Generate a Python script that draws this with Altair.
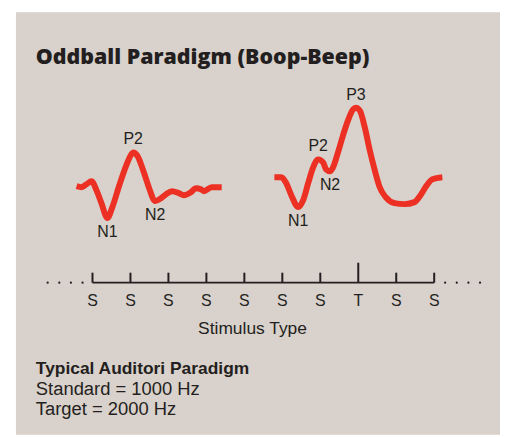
import altair as alt
import pandas as pd
import numpy as np

# ---- data (time units / amplitude units) ----
title_text = "Oddball Paradigm (Boop-Beep)"

standard_t = [61, 66, 71, 76, 81, 86, 92, 97, 104, 111, 116, 118, 122, 129, 134, 140,
              146, 151, 157, 164, 169, 176, 181, 186, 189, 197, 207]
standard_amp = [250, 249, 252, 255, 246, 233, 218, 229, 251, 271, 282, 284, 281, 263, 248, 235,
                238, 242, 245, 243, 241, 244, 248, 247, 245, 249, 249]
standard_peaks = {"N1": 92, "P2": 118, "N2": 140}

target_t = [260, 267, 272, 277, 284, 289, 294, 299, 304, 309, 312, 316, 319, 324, 329, 334,
            339, 342, 346, 351, 356, 361, 366, 372, 381, 391, 401, 407, 412, 419, 429]
target_amp = [259, 259, 253, 241, 229, 236, 253, 269, 277, 274, 267, 265, 269, 284, 301, 316,
              327, 329, 326, 309, 286, 266, 249, 239, 233, 232, 234, 241, 249, 257, 259]
target_peaks = {"N1": 284, "P2": 304, "N2": 316, "P3": 342}

stimuli = ["S", "S", "S", "S", "S", "S", "S", "T", "S", "S"]
axis_title = "Stimulus Type"
note_lines = ["Typical Auditori Paradigm", "Standard = 1000 Hz", "Target = 2000 Hz"]

# ---- styles / layout ----
RED = "#ec3024"
INK = "#231f20"
PANEL = "#d9d1cb"
FONT = "Liberation Sans"
W, H = 487, 425
AX0, STEP, AXY = 77, 38.2, 153

xs = alt.Scale(domain=[0, W], nice=False, zero=False)
ys = alt.Scale(domain=[0, H], nice=False, zero=False)

wave = pd.concat([
    pd.DataFrame({"t": standard_t, "amp": standard_amp, "series": "standard"}),
    pd.DataFrame({"t": target_t, "amp": target_amp, "series": "target"}),
])

rows = []
for name, t in standard_peaks.items():
    rows.append({"label": name, "t": t, "amp": standard_amp[standard_t.index(t)]})
for name, t in target_peaks.items():
    rows.append({"label": name, "t": t, "amp": target_amp[target_t.index(t)]})
peaks = pd.DataFrame(rows)
peaks["ly"] = peaks["amp"] + np.where(peaks["label"].str.startswith("P"), 13, -14)

lines = alt.Chart(wave).mark_line(
    color=RED, strokeWidth=6, interpolate="monotone", strokeJoin="round", strokeCap="butt"
).encode(
    x=alt.X("t:Q", scale=xs, axis=None),
    y=alt.Y("amp:Q", scale=ys, axis=None),
    detail="series:N",
)

peak_text = alt.Chart(peaks).mark_text(
    font=FONT, fontSize=16, color=INK, baseline="middle", align="center"
).encode(x=alt.X("t:Q", scale=xs), y=alt.Y("ly:Q", scale=ys), text="label:N")

stim = pd.DataFrame({"i": range(len(stimuli)), "type": stimuli})
stim["x"] = AX0 + STEP * stim["i"]
stim["y0"] = AXY
stim["ytop"] = AXY + np.where(stim["type"] == "T", 20, 10)
stim["ylab"] = AXY - 24

ticks = alt.Chart(stim).mark_rule(color=INK, strokeWidth=2).encode(
    x=alt.X("x:Q", scale=xs), y=alt.Y("y0:Q", scale=ys), y2="ytop:Q"
)
tick_labels = alt.Chart(stim).mark_text(
    font=FONT, fontSize=16, color=INK, baseline="alphabetic", align="center"
).encode(x=alt.X("x:Q", scale=xs), y=alt.Y("ylab:Q", scale=ys), text="type:N")

axend = AX0 + STEP * (len(stimuli) - 1)
base_df = pd.DataFrame({"x": [AX0], "x2": [axend], "y": [AXY]})
baseline = alt.Chart(base_df).mark_rule(color=INK, strokeWidth=2).encode(
    x=alt.X("x:Q", scale=xs), x2="x2:Q", y=alt.Y("y:Q", scale=ys)
)

dots_df = pd.DataFrame({
    "x": [AX0 - 10 - 11.7 * k for k in range(4)] + [axend + 11 + 11.7 * k for k in range(4)],
    "y": [AXY] * 8,
})
dots = alt.Chart(dots_df).mark_circle(color=INK, size=5, opacity=1).encode(
    x=alt.X("x:Q", scale=xs), y=alt.Y("y:Q", scale=ys)
)

title_df = pd.DataFrame({"text": [title_text], "x": [20], "y": [373]})
title = alt.Chart(title_df).mark_text(
    font="Open Sans", fontSize=21.5, fontWeight=800, color=INK, align="left", baseline="alphabetic"
).encode(x=alt.X("x:Q", scale=xs), y=alt.Y("y:Q", scale=ys), text="text:N")

axt_df = pd.DataFrame({"text": [axis_title], "x": [238], "y": [101]})
axt = alt.Chart(axt_df).mark_text(
    font=FONT, fontSize=17.5, color=INK, align="center", baseline="alphabetic"
).encode(x=alt.X("x:Q", scale=xs), y=alt.Y("y:Q", scale=ys), text="text:N")

notes_df = pd.DataFrame({"text": note_lines, "x": [20, 20, 20], "y": [61, 40, 20]})
note_bold = alt.Chart(notes_df.iloc[:1]).mark_text(
    font=FONT, fontSize=17.5, fontWeight="bold", color=INK, align="left", baseline="alphabetic"
).encode(x=alt.X("x:Q", scale=xs), y=alt.Y("y:Q", scale=ys), text="text:N")
note_reg = alt.Chart(notes_df.iloc[1:]).mark_text(
    font=FONT, fontSize=18.5, color=INK, align="left", baseline="alphabetic"
).encode(x=alt.X("x:Q", scale=xs), y=alt.Y("y:Q", scale=ys), text="text:N")

chart = alt.layer(
    lines, peak_text, baseline, ticks, tick_labels, dots, title, axt, note_bold, note_reg
).properties(
    width=W, height=H, autosize="none",
    padding={"left": 8, "top": 3, "right": 0, "bottom": 0},
    background="white",
).configure_view(fill=PANEL, stroke=None)

chart.save("out.html", embed_options={"renderer": "svg", "actions": False})
